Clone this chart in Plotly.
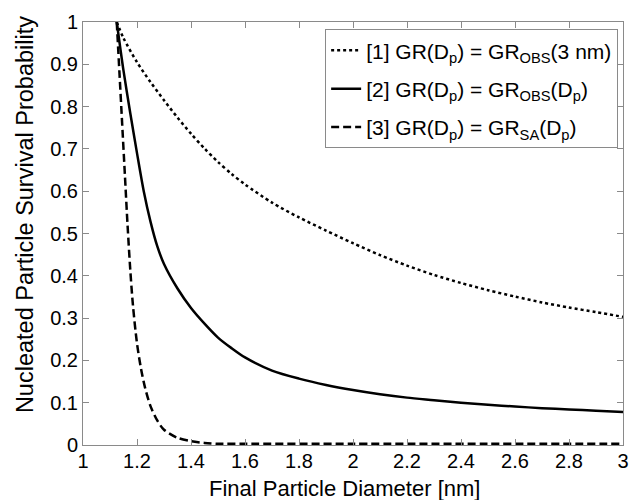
import plotly.graph_objects as go

# Series 1: GR(Dp) = GR_OBS(3 nm)  (dotted)
x1 = [1.125, 1.15, 1.2, 1.25, 1.3, 1.35, 1.4, 1.45, 1.5, 1.55, 1.6, 1.7, 1.8, 1.9, 2.0,
      2.1, 2.2, 2.3, 2.4, 2.5, 2.6, 2.7, 2.8, 2.9, 3.0]
y1 = [1.0, 0.962, 0.905, 0.858, 0.815, 0.774, 0.736, 0.701, 0.669, 0.641, 0.616, 0.573, 0.538, 0.507, 0.477,
      0.449, 0.424, 0.402, 0.383, 0.366, 0.351, 0.337, 0.325, 0.314, 0.303]

# Series 2: GR(Dp) = GR_OBS(Dp)  (solid)
x2 = [1.125, 1.15, 1.175, 1.2, 1.225, 1.25, 1.275, 1.3, 1.35, 1.4, 1.45, 1.5, 1.55, 1.6, 1.7,
      1.8, 1.9, 2.0, 2.1, 2.2, 2.3, 2.4, 2.5, 2.6, 2.7, 2.8, 2.9, 3.0]
y2 = [1.0, 0.885, 0.785, 0.69, 0.60, 0.528, 0.47, 0.428, 0.37, 0.324, 0.287, 0.254, 0.229, 0.207, 0.176,
      0.157, 0.142, 0.13, 0.12, 0.112, 0.106, 0.10, 0.095, 0.091, 0.087, 0.084, 0.081, 0.078]

# Series 3: GR(Dp) = GR_SA(Dp)  (dashed)
x3 = [1.125, 1.135, 1.145, 1.155, 1.165, 1.175, 1.185, 1.2, 1.215, 1.23, 1.25, 1.275, 1.3,
      1.35, 1.4, 1.45, 1.5, 1.6, 2.0, 2.5, 3.0]
y3 = [1.0, 0.88, 0.76, 0.64, 0.52, 0.415, 0.33, 0.24, 0.18, 0.135, 0.092, 0.058, 0.036,
      0.017, 0.009, 0.005, 0.003, 0.003, 0.003, 0.003, 0.003]

names = [
    "[1] GR(D<sub>p</sub>) = GR<sub>OBS</sub>(3 nm)",
    "[2] GR(D<sub>p</sub>) = GR<sub>OBS</sub>(D<sub>p</sub>)",
    "[3] GR(D<sub>p</sub>) = GR<sub>SA</sub>(D<sub>p</sub>)",
]

x_ticks = [1, 1.2, 1.4, 1.6, 1.8, 2, 2.2, 2.4, 2.6, 2.8, 3]
y_ticks = [0, 0.1, 0.2, 0.3, 0.4, 0.5, 0.6, 0.7, 0.8, 0.9, 1]
x_title = "Final Particle Diameter [nm]"
y_title = "Nucleated Particle Survival Probability"

FONT = "Liberation Sans, Arial, sans-serif"

fig = go.Figure()
fig.add_trace(go.Scatter(x=x1, y=y1, mode="lines", name=names[0], legendgroup="g1",
                         line=dict(color="black", width=2.5, dash="3px,3px", shape="spline", smoothing=0.8)))
fig.add_trace(go.Scatter(x=x2, y=y2, mode="lines", name=names[1], legendgroup="g2",
                         line=dict(color="black", width=2.5, shape="spline", smoothing=0.8)))
fig.add_trace(go.Scatter(x=x3, y=y3, mode="lines", name=names[2], legendgroup="g3",
                         line=dict(color="black", width=2.5, dash="8px,4px", shape="spline", smoothing=0.8)))

axis_common = dict(
    showline=True, linecolor="#8a8a8a", linewidth=1, mirror="ticks",
    ticks="inside", ticklen=6, tickcolor="#8a8a8a", tickwidth=1,
    showgrid=False, zeroline=False, automargin=False,
    tickfont=dict(family=FONT, size=20, color="black"),
)

fig.update_layout(
    width=631, height=500,
    margin=dict(l=83, r=8, t=22, b=55),
    paper_bgcolor="white", plot_bgcolor="white",
    font=dict(family=FONT, color="black"),
    xaxis=dict(range=[1, 3], tickvals=x_ticks, ticktext=[str(v) for v in x_ticks],
               ticklabelstandoff=-2, **axis_common),
    yaxis=dict(range=[0, 1], tickvals=y_ticks, ticktext=[str(v) for v in y_ticks],
               **axis_common),
    legend=dict(x=0.991, xanchor="right", y=0.983, yanchor="top",
                bgcolor="white", bordercolor="#8a8a8a", borderwidth=1,
                tracegroupgap=8,
                font=dict(family=FONT, size=21, color="black")),
    showlegend=True,
    annotations=[
        dict(text=x_title, xref="paper", yref="paper", x=0.485, y=-0.102,
             xanchor="center", yanchor="middle", showarrow=False,
             font=dict(family=FONT, size=22, color="black")),
        dict(text=y_title, xref="paper", yref="paper", x=-0.107, y=0.544,
             xanchor="center", yanchor="middle", textangle=-90, showarrow=False,
             font=dict(family=FONT, size=23.5, color="black")),
    ],
)

fig.write_html("out.html",
               config={"displayModeBar": False},
               post_script="document.body.style.margin='0';document.body.style.overflow='hidden';")
